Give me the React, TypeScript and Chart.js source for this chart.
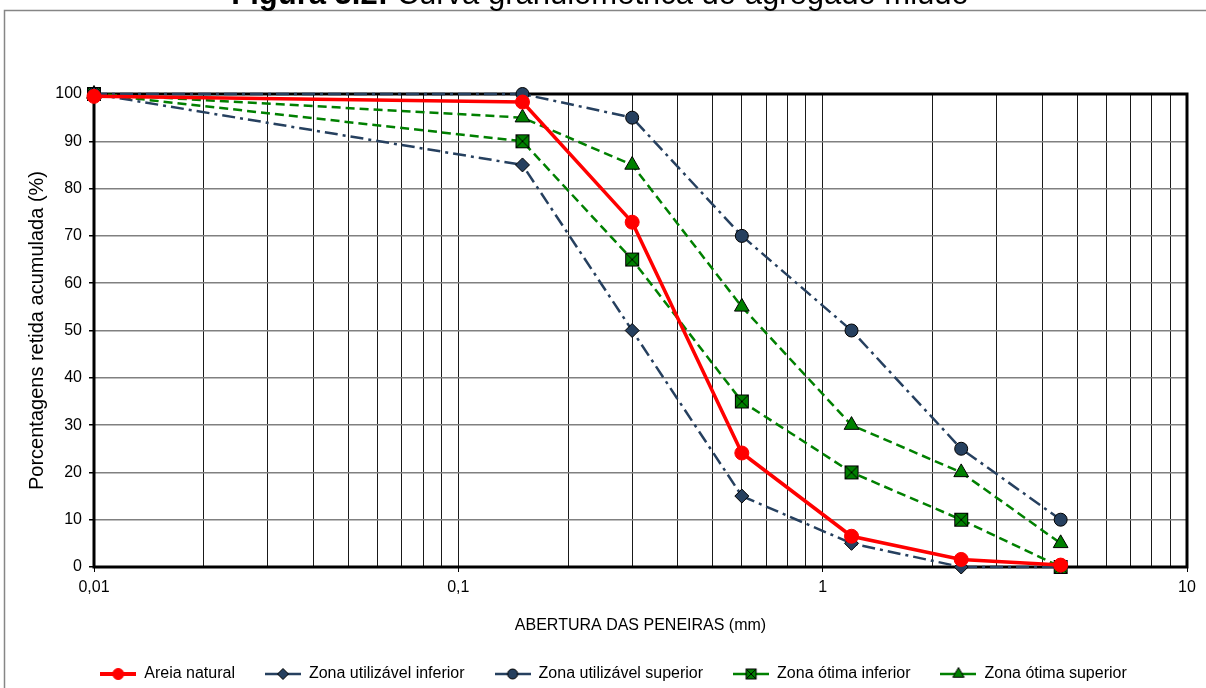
import React, { useEffect, useRef } from "react";
import { Chart, registerables } from "chart.js";

Chart.register(...registerables);

// ---------- data ----------
const sieveSizes = [0.01, 0.15, 0.3, 0.6, 1.2, 2.4, 4.5];
const areiaNatural = [99.5, 98.3, 72.9, 24.1, 6.5, 1.6, 0.4];
const zonaUtilInferior = [100, 85, 50, 15, 5, 0, 0];
const zonaUtilSuperior = [100, 100, 95, 70, 50, 25, 10];
const zonaOtimaInferior = [100, 90, 65, 35, 20, 10, 0];
const zonaOtimaSuperior = [100, 95, 85, 55, 30, 20, 5];

const seriesNames = [
  "Areia natural",
  "Zona utilizável inferior",
  "Zona utilizável superior",
  "Zona ótima inferior",
  "Zona ótima superior",
];

const xDecades = [0.01, 0.1, 1];
const xMultipliers = [1, 2, 3, 4, 5, 6, 7, 8, 9];
const xMin = 0.01;
const xMax = 10;
const xMajorValues = [0.01, 0.1, 1, 10];
const xMajorLabels = ["0,01", "0,1", "1", "10"];
const yMin = 0;
const yMax = 100;
const yStep = 10;

const titleBold = "Figura 3.2:";
const titleRegular = " Curva granulométrica do agregado miúdo";
const xTitle = "ABERTURA DAS PENEIRAS (mm)";
const yTitle = "Porcentagens retida acumulada (%)";

// ---------- styles ----------
const RED = "#FF0000";
const NAVY = "#26405F";
const GREEN = "#008000";
const FONT = "Arial, 'Liberation Sans', sans-serif";

function drawCircle(ctx: CanvasRenderingContext2D, cx: number, cy: number, r: number, fill: string, stroke: string) {
  ctx.beginPath();
  ctx.arc(cx, cy, r, 0, Math.PI * 2);
  ctx.fillStyle = fill;
  ctx.fill();
  ctx.lineWidth = 1;
  ctx.strokeStyle = stroke;
  ctx.stroke();
}
function drawDiamond(ctx: CanvasRenderingContext2D, cx: number, cy: number, r: number) {
  ctx.beginPath();
  ctx.moveTo(cx, cy - r);
  ctx.lineTo(cx + r, cy);
  ctx.lineTo(cx, cy + r);
  ctx.lineTo(cx - r, cy);
  ctx.closePath();
  ctx.fillStyle = NAVY;
  ctx.fill();
  ctx.lineWidth = 1;
  ctx.strokeStyle = "#000";
  ctx.stroke();
}
function drawTriangle(ctx: CanvasRenderingContext2D, cx: number, cy: number, r: number) {
  ctx.beginPath();
  ctx.moveTo(cx, cy - r);
  ctx.lineTo(cx + r * 0.866, cy + r * 0.5);
  ctx.lineTo(cx - r * 0.866, cy + r * 0.5);
  ctx.closePath();
  ctx.fillStyle = GREEN;
  ctx.fill();
  ctx.lineWidth = 1;
  ctx.strokeStyle = "#000";
  ctx.stroke();
}
function drawSquareX(ctx: CanvasRenderingContext2D, cx: number, cy: number, h: number) {
  ctx.fillStyle = GREEN;
  ctx.fillRect(cx - h, cy - h, 2 * h, 2 * h);
  ctx.lineWidth = 1;
  ctx.strokeStyle = "#000";
  ctx.strokeRect(cx - h, cy - h, 2 * h, 2 * h);
  ctx.beginPath();
  ctx.moveTo(cx - h, cy - h);
  ctx.lineTo(cx + h, cy + h);
  ctx.moveTo(cx + h, cy - h);
  ctx.lineTo(cx - h, cy + h);
  ctx.stroke();
}

function makeCanvas(w: number, h: number, draw: (ctx: CanvasRenderingContext2D) => void) {
  const c = document.createElement("canvas");
  c.width = w;
  c.height = h;
  const ctx = c.getContext("2d")!;
  draw(ctx);
  return c;
}

function legendSample(idx: number) {
  const W = 36, H = 16, cy = 8, cx = 18;
  return makeCanvas(W, H, (ctx) => {
    ctx.beginPath();
    ctx.moveTo(0, cy);
    ctx.lineTo(W, cy);
    ctx.lineWidth = idx === 0 ? 4 : 2.5;
    ctx.strokeStyle = idx === 0 ? RED : idx < 3 ? NAVY : GREEN;
    ctx.stroke();
    if (idx === 0) drawCircle(ctx, cx, cy, 5.5, RED, RED);
    if (idx === 1) drawDiamond(ctx, cx, cy, 5.5);
    if (idx === 2) drawCircle(ctx, cx, cy, 5, NAVY, "#000");
    if (idx === 3) drawSquareX(ctx, cx, cy, 5);
    if (idx === 4) drawTriangle(ctx, cx, cy, 6.5);
  });
}

const framePlugin = {
  id: "frameAndTitle",
  beforeDraw(chart: any) {
    const ctx = chart.ctx;
    ctx.save();
    ctx.fillStyle = "#fff";
    ctx.fillRect(0, 0, chart.width, chart.height);
    ctx.strokeStyle = "#868686";
    ctx.lineWidth = 1.5;
    ctx.strokeRect(4.5, 10.5, chart.width + 20, chart.height + 20);
    ctx.restore();
  },
  beforeDatasetsDraw(chart: any) {
    const { ctx, chartArea: a } = chart;
    ctx.save();
    ctx.strokeStyle = "#000";
    ctx.lineWidth = 3;
    ctx.strokeRect(a.left, a.top, a.right - a.left, a.bottom - a.top);
    ctx.restore();
  },
  afterDraw(chart: any) {
    const ctx = chart.ctx;
    ctx.save();
    const size = 31;
    ctx.textBaseline = "alphabetic";
    ctx.fillStyle = "#000";
    ctx.font = `bold ${size}px ${FONT}`;
    const w1 = ctx.measureText(titleBold).width;
    ctx.font = `${size}px ${FONT}`;
    const w2 = ctx.measureText(titleRegular).width;
    const x0 = 600 - (w1 + w2) / 2;
    ctx.font = `bold ${size}px ${FONT}`;
    ctx.fillText(titleBold, x0, 4);
    ctx.font = `${size}px ${FONT}`;
    ctx.fillText(titleRegular, x0 + w1, 4);
    ctx.restore();
  },
};

export default function App() {
  const ref = useRef<HTMLCanvasElement | null>(null);

  useEffect(() => {
    if (!ref.current) return;
    Chart.defaults.font.family = FONT;
    Chart.defaults.color = "#000";

    const squareX = makeCanvas(16, 16, (ctx) => drawSquareX(ctx, 8, 8, 6.5));
    const samples = seriesNames.map((_, i) => legendSample(i));

    const gridValues: number[] = [];
    xDecades.forEach((d) => xMultipliers.forEach((m) => gridValues.push(parseFloat((d * m).toPrecision(6)))));
    gridValues.push(xMax);

    const mk = (arr: number[]) => sieveSizes.map((x, i) => ({ x, y: arr[i] }));

    const chart = new Chart(ref.current, {
      type: "line",
      plugins: [framePlugin],
      data: {
        datasets: [
          {
            label: seriesNames[0],
            data: mk(areiaNatural),
            borderColor: RED,
            backgroundColor: RED,
            borderWidth: 3.5,
            pointStyle: "circle",
            pointRadius: 7,
            pointBackgroundColor: RED,
            pointBorderColor: RED,
            pointBorderWidth: 1,
            clip: false,
          },
          {
            label: seriesNames[1],
            data: mk(zonaUtilInferior),
            borderColor: NAVY,
            borderWidth: 2.5,
            borderDash: [13, 5, 3, 5],
            pointStyle: "rectRot",
            pointRadius: 7,
            pointBackgroundColor: NAVY,
            pointBorderColor: "#000",
            pointBorderWidth: 1,
            clip: false,
          },
          {
            label: seriesNames[2],
            data: mk(zonaUtilSuperior),
            borderColor: NAVY,
            borderWidth: 2.5,
            borderDash: [13, 5, 3, 5],
            pointStyle: "circle",
            pointRadius: 6.5,
            pointBackgroundColor: NAVY,
            pointBorderColor: "#000",
            pointBorderWidth: 1,
            clip: false,
          },
          {
            label: seriesNames[3],
            data: mk(zonaOtimaInferior),
            borderColor: GREEN,
            borderWidth: 2.5,
            borderDash: [9, 5],
            pointStyle: squareX as any,
            pointRadius: 7,
            pointBackgroundColor: GREEN,
            pointBorderColor: "#000",
            clip: false,
          },
          {
            label: seriesNames[4],
            data: mk(zonaOtimaSuperior),
            borderColor: GREEN,
            borderWidth: 2.5,
            borderDash: [9, 5],
            pointStyle: "triangle",
            pointRadius: 8.5,
            pointBackgroundColor: GREEN,
            pointBorderColor: "#000",
            pointBorderWidth: 1,
            clip: false,
          },
        ],
      },
      options: {
        responsive: false,
        animation: false,
        events: [],
        layout: { padding: { left: 40, right: 19, top: 94, bottom: -4 } },
        scales: {
          x: {
            type: "logarithmic",
            min: xMin,
            max: xMax,
            afterBuildTicks: (scale: any) => {
              scale.ticks = gridValues.map((v) => ({ value: v, major: xMajorValues.some((m) => Math.abs(m - v) < 1e-9) }));
            },
            afterFit: (scale: any) => {
              scale.height = 69;
            },
            ticks: {
              autoSkip: false,
              maxRotation: 0,
              minRotation: 0,
              padding: 6,
              font: { size: 16 },
              color: "#000",
              callback: (value: any) => {
                const i = xMajorValues.findIndex((m) => Math.abs(m - Number(value)) < 1e-9);
                return i >= 0 ? xMajorLabels[i] : "";
              },
            },
            grid: {
              color: "#1a1a1a",
              lineWidth: 1,
              tickLength: 5,
              tickColor: (ctx: any) => (ctx.tick && ctx.tick.major ? "#000" : "rgba(0,0,0,0)"),
            },
            border: { display: false },
            title: {
              display: true,
              text: xTitle,
              font: { size: 16 },
              color: "#000",
              padding: { top: 0, bottom: 1 },
            },
          },
          y: {
            type: "linear",
            min: yMin,
            max: yMax,
            afterFit: (scale: any) => {
              scale.width = 54;
            },
            ticks: {
              stepSize: yStep,
              padding: 7,
              font: { size: 16 },
              color: "#000",
            },
            grid: {
              color: "#808080",
              lineWidth: 1.5,
              tickLength: 5,
              tickColor: "#000",
            },
            border: { display: false },
            title: {
              display: true,
              text: yTitle,
              font: { size: 20 },
              color: "#000",
              padding: { top: -15, bottom: 0 },
            },
          },
        },
        plugins: {
          title: { display: false },
          tooltip: { enabled: false },
          legend: {
            display: true,
            position: "bottom",
            labels: {
              usePointStyle: true,
              pointStyleWidth: 36,
              padding: 30,
              font: { size: 16 },
              color: "#000",
              generateLabels: (ch: any) =>
                ch.data.datasets.map((ds: any, i: number) => ({
                  text: ds.label,
                  pointStyle: samples[i],
                  fillStyle: "transparent",
                  strokeStyle: "transparent",
                  lineWidth: 0,
                  hidden: false,
                  datasetIndex: i,
                  fontColor: "#000",
                })),
            },
          },
        },
      },
    } as any);

    return () => chart.destroy();
  }, []);

  return (
    <div style={{ position: "absolute", left: 0, top: 0, width: 1206, height: 688 }}>
      <canvas ref={ref} width={1206} height={688} style={{ width: 1206, height: 688, display: "block" }} />
    </div>
  );
}
